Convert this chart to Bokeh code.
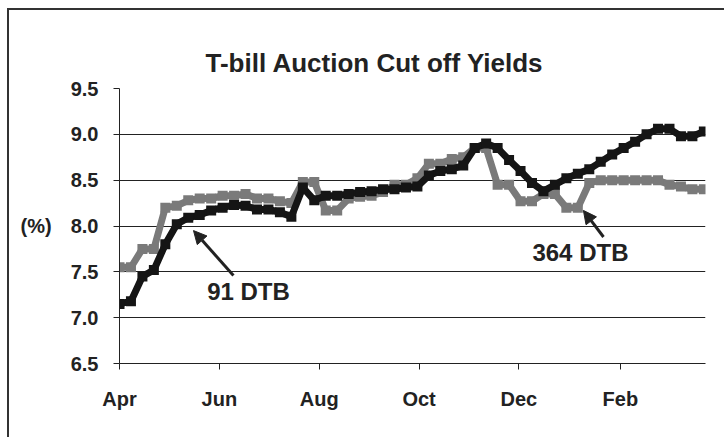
from bokeh.plotting import figure
from bokeh.models import (Arrow, NormalHead, Label, FixedTicker, Range1d)
from bokeh.embed import file_html
from bokeh.resources import INLINE

# ---- data (weekly auctions, days since 1 April) ----
days = [0, 7, 14, 21, 28, 35, 42, 49, 56, 63, 70, 77, 84, 91, 98, 105,
        112, 119, 126, 133, 140, 147, 154, 161, 168, 175, 182, 189, 196,
        203, 210, 217, 224, 231, 238, 245, 252, 259, 266, 273, 280, 287,
        294, 301, 308, 315, 322, 329, 336, 343, 350, 357]

dtb91 = [7.15, 7.18, 7.45, 7.52, 7.80, 8.02, 8.09, 8.12, 8.17, 8.20,
         8.23, 8.22, 8.18, 8.18, 8.15, 8.10, 8.42, 8.28, 8.33, 8.33,
         8.35, 8.37, 8.38, 8.40, 8.40, 8.42, 8.43, 8.55, 8.60, 8.62,
         8.66, 8.85, 8.90, 8.85, 8.72, 8.60, 8.47, 8.38, 8.45, 8.52,
         8.57, 8.62, 8.70, 8.78, 8.85, 8.92, 9.00, 9.06, 9.06, 8.98,
         8.98, 9.03]

dtb364 = [7.55, 7.55, 7.75, 7.75, 8.20, 8.22, 8.28, 8.30, 8.30, 8.33,
          8.33, 8.35, 8.30, 8.30, 8.27, 8.25, 8.48, 8.48, 8.17, 8.17,
          8.30, 8.32, 8.33, 8.37, 8.45, 8.45, 8.52, 8.68, 8.68, 8.73,
          8.75, 8.85, 8.85, 8.45, 8.45, 8.27, 8.27, 8.35, 8.35, 8.20,
          8.20, 8.47, 8.50, 8.50, 8.50, 8.50, 8.50, 8.50, 8.45, 8.43,
          8.40, 8.40]

month_ticks = [0, 61, 122, 183, 244, 306]
month_labels = ["Apr", "Jun", "Aug", "Oct", "Dec", "Feb"]
y_ticks = [6.5, 7.0, 7.5, 8.0, 8.5, 9.0, 9.5]

FONT = "Liberation Sans"
INK = "#222222"
BLACK = "#151515"
GRAY = "#7a7a7a"

p = figure(width=717, height=429, output_backend="svg", toolbar_location=None,
           x_range=Range1d(0, 358), y_range=Range1d(6.5, 9.5),
           min_border_left=110, min_border_right=21,
           min_border_top=78, min_border_bottom=76)
p.styles = {"margin-left": "7px", "margin-top": "8px",
            "border-left": "2px solid #333333", "border-top": "2px solid #333333"}

p.title.text = "T-bill Auction Cut off Yields"
p.title.text_font = FONT
p.title.text_font_style = "bold"
p.title.text_font_size = "26px"
p.title.text_color = INK
p.title.align = "left"
p.title.offset = 86
p.title.standoff = 22

p.outline_line_color = None
p.xgrid.grid_line_color = None
p.ygrid.grid_line_color = INK
p.ygrid.grid_line_width = 1
p.ygrid.ticker = FixedTicker(ticks=y_ticks)

p.yaxis.ticker = FixedTicker(ticks=y_ticks)
p.yaxis.major_label_overrides = {t: f"{t:.1f}" for t in y_ticks}
p.xaxis.ticker = FixedTicker(ticks=month_ticks)
p.xaxis.major_label_overrides = dict(zip(month_ticks, month_labels))

for ax in (p.xaxis[0], p.yaxis[0]):
    ax.axis_line_color = INK
    ax.major_tick_line_color = INK
    ax.major_tick_out = 6
    ax.major_tick_in = 0
    ax.minor_tick_line_color = None
    ax.major_label_text_font = FONT
    ax.major_label_text_font_style = "bold"
    ax.major_label_text_font_size = "20px"
    ax.major_label_text_color = INK
p.yaxis.major_label_standoff = 15
p.xaxis.major_label_standoff = 18

p.yaxis.axis_label = "(%)"
p.yaxis.axis_label_orientation = "horizontal"
p.yaxis.axis_label_text_font = FONT
p.yaxis.axis_label_text_font_style = "bold"
p.yaxis.axis_label_text_font_size = "20px"
p.yaxis.axis_label_text_color = INK
p.yaxis.axis_label_standoff = 16

# series
p.line(days, dtb364, line_color=GRAY, line_width=7)
p.scatter(days, dtb364, marker="square", size=10, fill_color=GRAY, line_color=None)
p.line(days, dtb91, line_color=BLACK, line_width=7)
p.scatter(days, dtb91, marker="square", size=10, fill_color=BLACK, line_color=None)

# annotations
p.add_layout(Arrow(end=NormalHead(size=13, fill_color=INK, line_color=INK),
                   x_start=69.6, y_start=7.46, x_end=45.2, y_end=7.95,
                   line_color=INK, line_width=3))
p.add_layout(Label(x=78.8, y=7.29, text="91 DTB", text_align="center",
                   text_baseline="middle", text_font=FONT, text_font_style="bold",
                   text_font_size="24px", text_color=INK))
p.add_layout(Arrow(end=NormalHead(size=13, fill_color=INK, line_color=INK),
                   x_start=295.7, y_start=7.88, x_end=283.4, y_end=8.17,
                   line_color=INK, line_width=3))
p.add_layout(Label(x=281.6, y=7.71, text="364 DTB", text_align="center",
                   text_baseline="middle", text_font=FONT, text_font_style="bold",
                   text_font_size="24px", text_color=INK))

open("out.html", "w").write(file_html(p, INLINE))
